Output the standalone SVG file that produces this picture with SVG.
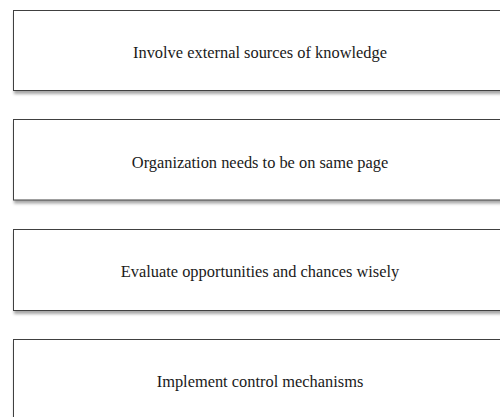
<svg xmlns="http://www.w3.org/2000/svg" width="500" height="417" viewBox="0 0 500 417">
  <style>
    .box { fill: #ffffff; stroke: #3f3f3f; stroke-width: 1; filter: url(#shadow); }
    .label { font-family: "Liberation Serif", "Times New Roman", serif; font-size: 16.4px; fill: #1a1a1a; text-anchor: middle; }
  </style>
  <defs>
    <filter id="shadow" x="-10%" y="-20%" width="130%" height="150%">
      <feDropShadow dx="1" dy="3" stdDeviation="1.5" flood-color="#000000" flood-opacity="0.35"/>
    </filter>
  </defs>
  <rect width="500" height="417" fill="#ffffff"/>
  <g id="node-1">
    <rect class="box" x="13.5" y="10.5" width="500" height="80"/>
    <text class="label" x="260" y="57.5">Involve external sources of knowledge</text>
  </g>
  <g id="node-2">
    <rect class="box" x="13.5" y="119.5" width="500" height="80.5"/>
    <text class="label" x="260" y="168">Organization needs to be on same page</text>
  </g>
  <g id="node-3">
    <rect class="box" x="13.5" y="229.5" width="500" height="81"/>
    <text class="label" x="260" y="277">Evaluate opportunities and chances wisely</text>
  </g>
  <g id="node-4">
    <rect class="box" x="13.5" y="339.5" width="500" height="100"/>
    <text class="label" x="260" y="387">Implement control mechanisms</text>
  </g>
  <g id="connectors"></g>
</svg>
